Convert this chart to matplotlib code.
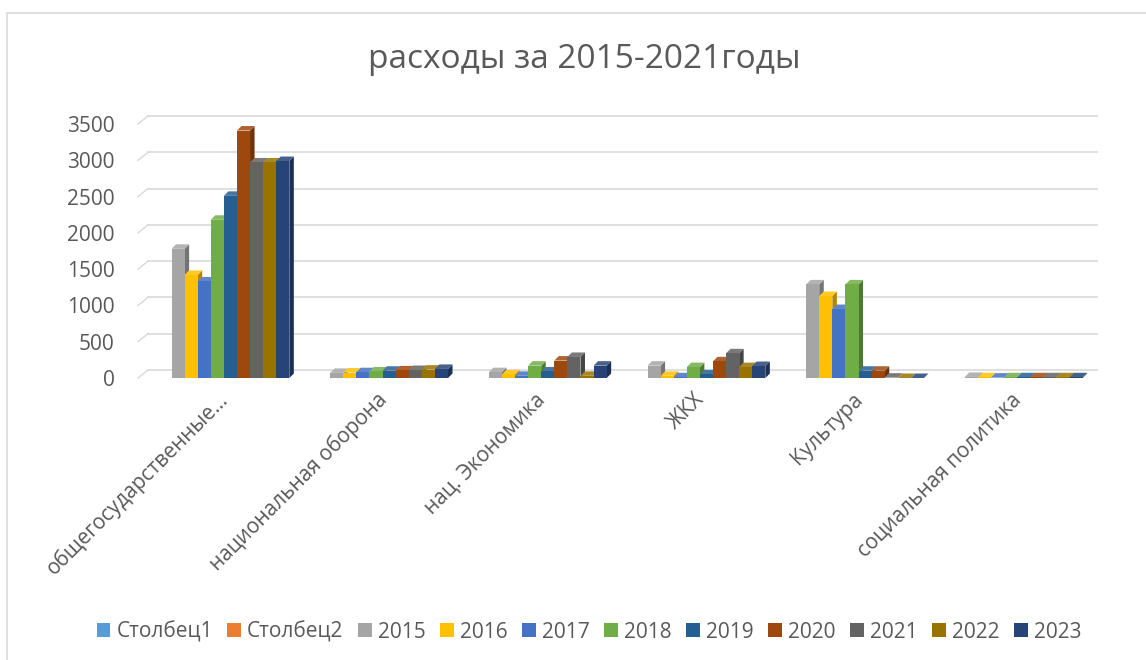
import matplotlib.pyplot as plt
from matplotlib.patches import Patch, Rectangle
import numpy as np

plt.rcParams['font.family'] = ['Open Sans', 'DejaVu Sans']

categories = ['общегосударственные...', 'национальная оборона', 'нац. Экономика',
              'ЖКХ', 'Культура', 'социальная политика']
series_names = ['Столбец1', 'Столбец2', '2015', '2016', '2017', '2018',
                '2019', '2020', '2021', '2022', '2023']
colors = ['#5B9BD5', '#ED7D31', '#A5A5A5', '#FFC000', '#4472C4', '#70AD47',
          '#255E91', '#9E480E', '#636363', '#997300', '#264478']

# one list per series, values per category
col1 = [0, 0, 0, 0, 0, 0]
col2 = [0, 0, 0, 0, 0, 0]
y2015 = [1780, 70, 80, 170, 1290, 15]
y2016 = [1420, 75, 50, 30, 1130, 10]
y2017 = [1330, 80, 30, 10, 950, 5]
y2018 = [2180, 90, 170, 150, 1290, 10]
y2019 = [2510, 100, 90, 50, 100, 10]
y2020 = [3410, 105, 240, 230, 100, 10]
y2021 = [2970, 110, 290, 340, 5, 10]
y2022 = [2970, 115, 30, 150, 0, 10]
y2023 = [2990, 125, 170, 165, 0, 10]
series = [col1, col2, y2015, y2016, y2017, y2018, y2019, y2020, y2021, y2022, y2023]

W, H = 1146, 660
fig = plt.figure(figsize=(W / 100, H / 100), dpi=100)

# chart border (only left/top visible in the original)
fig.patches.append(Rectangle((7 / W, -0.05), 1.2, (H - 13) / H + 0.05,
                             transform=fig.transFigure, fill=False,
                             edgecolor='#D9D9D9', lw=1.2))

# axes = front plane of the 3d chart
px_per_unit = 254 / 3500
y0_px = 378
ytop = 3700
ax_bottom = (H - y0_px) / H
ax_h = ytop * px_per_unit / H
ax_left = 138 / W
ax_w = (1090 - 138) / W
ax = fig.add_axes([ax_left, ax_bottom, ax_w, ax_h])
ax.set_xlim(-0.5, len(categories) - 0.5)
ax.set_ylim(0, ytop)
cat_px = (1090 - 138) / len(categories)

# depth offset in data units
dx = 4.5 / cat_px
dy = 4.5 / px_per_unit

def shade(c, f):
    c = np.array(plt.matplotlib.colors.to_rgb(c))
    if f < 1:
        return tuple(c * f)
    return tuple(c + (1 - c) * (f - 1))

# back wall gridlines with slanted floor edges
back_dx = 10 / cat_px
back_dy = 8 / px_per_unit
ticks = np.arange(0, 3501, 500)
for v in ticks:
    ax.plot([-0.5, -0.5 + back_dx], [v, v + back_dy], color='#D9D9D9', lw=1, clip_on=False, zorder=0)
    ax.plot([-0.5 + back_dx, (1097 - 138) / cat_px - 0.5], [v + back_dy, v + back_dy],
            color='#D9D9D9', lw=1.2, clip_on=False, zorder=0)

n = len(series)
bw = 0.0825
start = -n * bw / 2
for i, (vals, col) in enumerate(zip(series, colors)):
    for j, v in enumerate(vals):
        if i < 2:
            continue
        x0 = j + start + i * bw
        x1 = x0 + bw
        h = v
        # side face
        ax.fill([x1, x1 + dx, x1 + dx, x1], [0, dy, h + dy, h], color=shade(col, 0.7), lw=0, zorder=2)
        # top face
        ax.fill([x0, x0 + dx, x1 + dx, x1], [h, h + dy, h + dy, h], color=shade(col, 1.15), lw=0, zorder=2)
        ax.bar(x0, h, width=bw, align='edge', color=col, lw=0, zorder=2)

ax.set_yticks(ticks)
ax.set_yticklabels([str(t) for t in ticks], fontsize=15, color='#595959')
ax.tick_params(axis='y', length=0, pad=17)
ax.set_xticks(range(len(categories)))
ax.set_xticklabels(categories, rotation=45, ha='right', va='top', rotation_mode='anchor',
                   fontsize=15, color='#595959')
ax.tick_params(axis='x', length=0, pad=8)
for s in ax.spines.values():
    s.set_visible(False)
ax.patch.set_alpha(0)

fig.text(584 / W, 1 - 60 / H, 'расходы за 2015-2021годы', ha='center', va='center',
         fontsize=24, color='#595959')

handles = [Patch(facecolor=c, edgecolor='none') for c in colors]
fig.legend(handles, series_names, loc='center', bbox_to_anchor=(589 / W, 1 - 632 / H),
           ncol=len(series_names), frameon=False, fontsize=15, labelcolor='#595959',
           handlelength=0.65, handleheight=0.65, handletextpad=0.3, columnspacing=0.7)

fig.savefig('out.png', dpi=100)
